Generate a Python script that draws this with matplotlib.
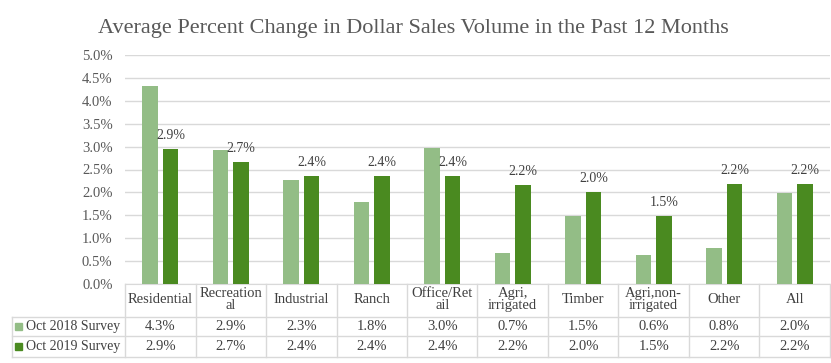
import numpy as np
import matplotlib
matplotlib.use('Agg')
import matplotlib.pyplot as plt
import matplotlib.transforms as mtransforms

# dados
categorias = ['Residential', 'Recreation\nal', 'Industrial', 'Ranch', 'Office/Ret\nail',
              'Agri,\nirrigated', 'Timber', 'Agri,non-\nirrigated', 'Other', 'All']
series = ['Oct 2018 Survey', 'Oct 2019 Survey']
oct2018 = [4.32, 2.92, 2.26, 1.80, 2.98, 0.68, 1.48, 0.64, 0.79, 1.98]
oct2019 = [2.94, 2.66, 2.36, 2.36, 2.36, 2.16, 2.01, 1.48, 2.19, 2.19]
yticks = [0.0, 0.5, 1.0, 1.5, 2.0, 2.5, 3.0, 3.5, 4.0, 4.5, 5.0]

cor_clara = '#93BD86'
cor_escura = '#4A8A20'
cinza = '#D9D9D9'
texto = '#404040'
fonte = 'Liberation Serif'

W, H = 831, 363
fig = plt.figure(figsize=(W / 100, H / 100), dpi=100)
ax = fig.add_axes([125 / W, 1 - 284 / H, 705 / W, (284 - 55) / H])

x = np.arange(len(categorias))
larg = 0.22
ax.bar(x - 0.145, oct2018, larg, color=cor_clara, zorder=3)
barras = ax.bar(x + 0.145, oct2019, larg, color=cor_escura, zorder=3)

# rotulos so na serie 2019
for b, v in zip(barras, oct2019):
    ax.annotate('{:.1f}%'.format(v), (b.get_x() + b.get_width() / 2, v),
                xytext=(0, 5), textcoords='offset points', ha='center', va='bottom',
                fontsize=10, color=texto, family=fonte)

ax.set_xlim(-0.5, len(categorias) - 0.5)
ax.set_ylim(0, 5)
ax.set_yticks(yticks)
ax.set_yticklabels(['{:.1f}%'.format(t) for t in yticks], family=fonte, fontsize=10.5, color='#595959')
ax.tick_params(axis='y', length=0, pad=9)
ax.set_xticks([])
ax.grid(axis='y', color=cinza, linewidth=1, zorder=0)
for s in ['top', 'right', 'left']:
    ax.spines[s].set_visible(False)
ax.spines['bottom'].set_color(cinza)

fig.text(413 / W, 1 - 29 / H, 'Average Percent Change in Dollar Sales Volume in the Past 12 Months',
         ha='center', va='center', fontsize=16, color='#595959', family=fonte)

# tabela de dados embaixo
trans = mtransforms.blended_transform_factory(ax.transData, fig.transFigure)
ftrans = fig.transFigure
linhas_y = [1 - 284 / H, 1 - 317 / H, 1 - 336 / H, 1 - 357 / H]
for yy in linhas_y[1:]:
    fig.add_artist(plt.Line2D([12 / W, 1], [yy, yy], color=cinza, lw=1, transform=ftrans))
for i in range(len(categorias) + 1):
    fig.add_artist(plt.Line2D([i - 0.5, i - 0.5], [linhas_y[0], linhas_y[3]],
                              color=cinza, lw=1, transform=trans))
fig.add_artist(plt.Line2D([12 / W, 12 / W], [linhas_y[1], linhas_y[3]], color=cinza, lw=1, transform=ftrans))

for i, c in enumerate(categorias):
    fig.text(i, (linhas_y[0] + linhas_y[1]) / 2 + 1 / H, c, transform=trans, ha='center', va='center',
             fontsize=10.5, color=texto, family=fonte, linespacing=0.95)

for r, (nome, vals, cor) in enumerate(zip(series, [oct2018, oct2019], [cor_clara, cor_escura])):
    yc = (linhas_y[r + 1] + linhas_y[r + 2]) / 2
    fig.add_artist(plt.Rectangle((15 / W, yc - 3.5 / H), 7 / W, 7 / H, color=cor, transform=ftrans))
    fig.text(26 / W, yc, nome, ha='left', va='center', fontsize=10, color=texto, family=fonte)
    for i, v in enumerate(vals):
        fig.text(i, yc, '{:.1f}%'.format(v), transform=trans, ha='center', va='center',
                 fontsize=10.5, color=texto, family=fonte)

fig.savefig('out.png', dpi=100)
